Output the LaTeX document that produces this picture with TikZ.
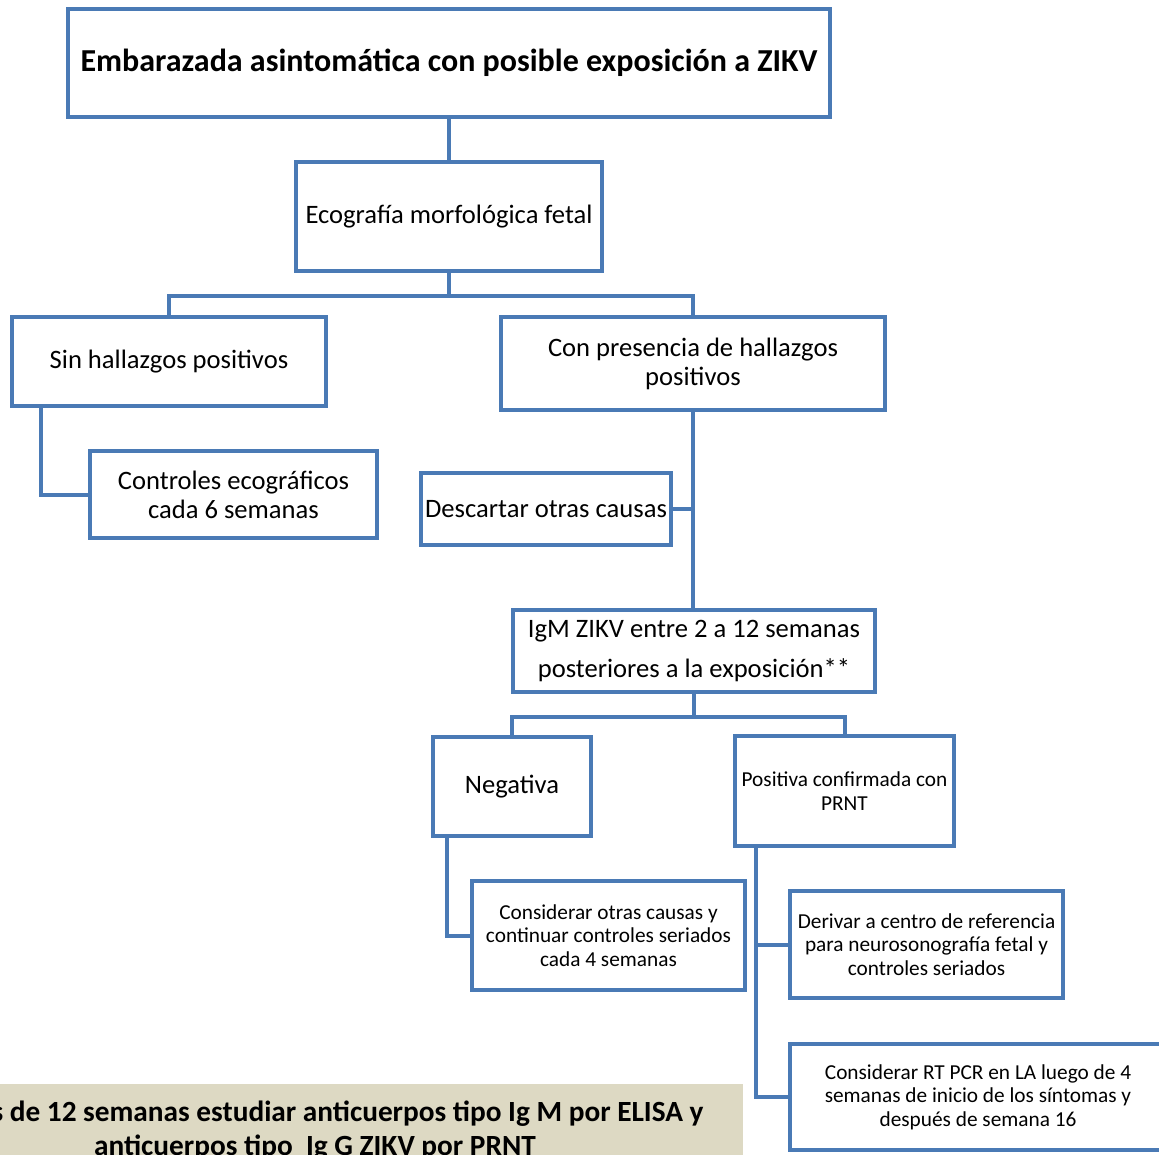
\documentclass[tikz,border=0pt]{standalone}
\usepackage{fontspec}
\setmainfont{Carlito}
\definecolor{zblue}{RGB}{74,122,181}
\definecolor{notefill}{RGB}{221,217,195}
\begin{document}
\begin{tikzpicture}[x=1pt,y=-1pt,
  box/.style={draw=zblue,line width=4pt,rectangle,inner sep=0pt,align=center,fill=white},
  big/.style={font=\fontsize{26.6}{29}\selectfont},
  small/.style={font=\fontsize{21.3}{23.5}\selectfont},
  notetext/.style={font=\bfseries\fontsize{29.3}{33}\selectfont},
  link/.style={draw=zblue,line width=4pt}]
\useasboundingbox (0,0) rectangle (1159,1154);
\clip (0,0) rectangle (1159,1154);

% note panel at the bottom left
\fill[notefill] (-20,1084) rectangle (743,1180);
\node[anchor=base east,notetext] (nota1) at (707,1121) {s de 12 semanas estudiar anticuerpos tipo Ig M por ELISA y};
\node[anchor=base,notetext] (nota2) at (315,1155) {anticuerpos tipo\ \ Ig G ZIKV por PRNT};

% boxes
\node[box,minimum width=762,minimum height=108,font=\bfseries\fontsize{32}{36}\selectfont] (title) at (449,63) {Embarazada asintomática con posible exposición a ZIKV};
\node[box,big,minimum width=306,minimum height=109] (eco) at (449,216.5) {Ecografía morfológica fetal};
\node[box,big,minimum width=314,minimum height=89] (sin) at (169,361.5) {Sin hallazgos positivos};
\node[box,big,minimum width=384,minimum height=93] (con) at (693,363.5) {Con presencia de hallazgos\\positivos};
\node[box,big,minimum width=287,minimum height=87] (ctrl) at (233.5,494.5) {Controles ecográficos\\cada 6 semanas};
\node[box,big,minimum width=250,minimum height=72] (desc) at (546,509) {Descartar otras causas};
\node[box,font=\fontsize{26.6}{40}\selectfont,minimum width=362,minimum height=82] (igm) at (694,651) {IgM ZIKV entre 2 a 12 semanas\\posteriores a la exposición**};
\node[box,big,minimum width=158,minimum height=99] (neg) at (512,786.5) {Negativa};
\node[box,small,minimum width=219,minimum height=110] (pos) at (844.5,791) {Positiva confirmada con\\PRNT};
\node[box,small,minimum width=273,minimum height=109] (otras) at (608.5,935.5) {Considerar otras causas y\\continuar controles seriados\\cada 4 semanas};
\node[box,small,minimum width=273,minimum height=107] (deriv) at (926.5,944.5) {Derivar a centro de referencia\\para neurosonografía fetal y\\controles seriados};
\node[box,small,minimum width=376,minimum height=106] (rt) at (978,1097) {Considerar RT PCR en LA luego de 4\\semanas de inicio de los síntomas y\\después de semana 16};

% connectors
\draw[link] (title.south) -- (eco.north);
\draw[link] (eco.south) -- ++(0,23) coordinate (split1) -| (sin.north);
\draw[link] (split1) -| (con.north);
\draw[link] ([xshift=31]sin.south west) |- (ctrl.west);
\draw[link] (con.south) -- (con.south |- igm.north);
\draw[link] (desc.east) -- (con.south |- desc.east);
\draw[link] (igm.south) -- ++(0,23) coordinate (split2) -| (neg.north);
\draw[link] (split2) -| (pos.north);
\draw[link] ([xshift=16]neg.south west) |- (otras.west);
\draw[link] ([xshift=23]pos.south west) |- (deriv.west);
\draw[link] ([xshift=23]pos.south west) |- (rt.west);
\end{tikzpicture}
\end{document}
